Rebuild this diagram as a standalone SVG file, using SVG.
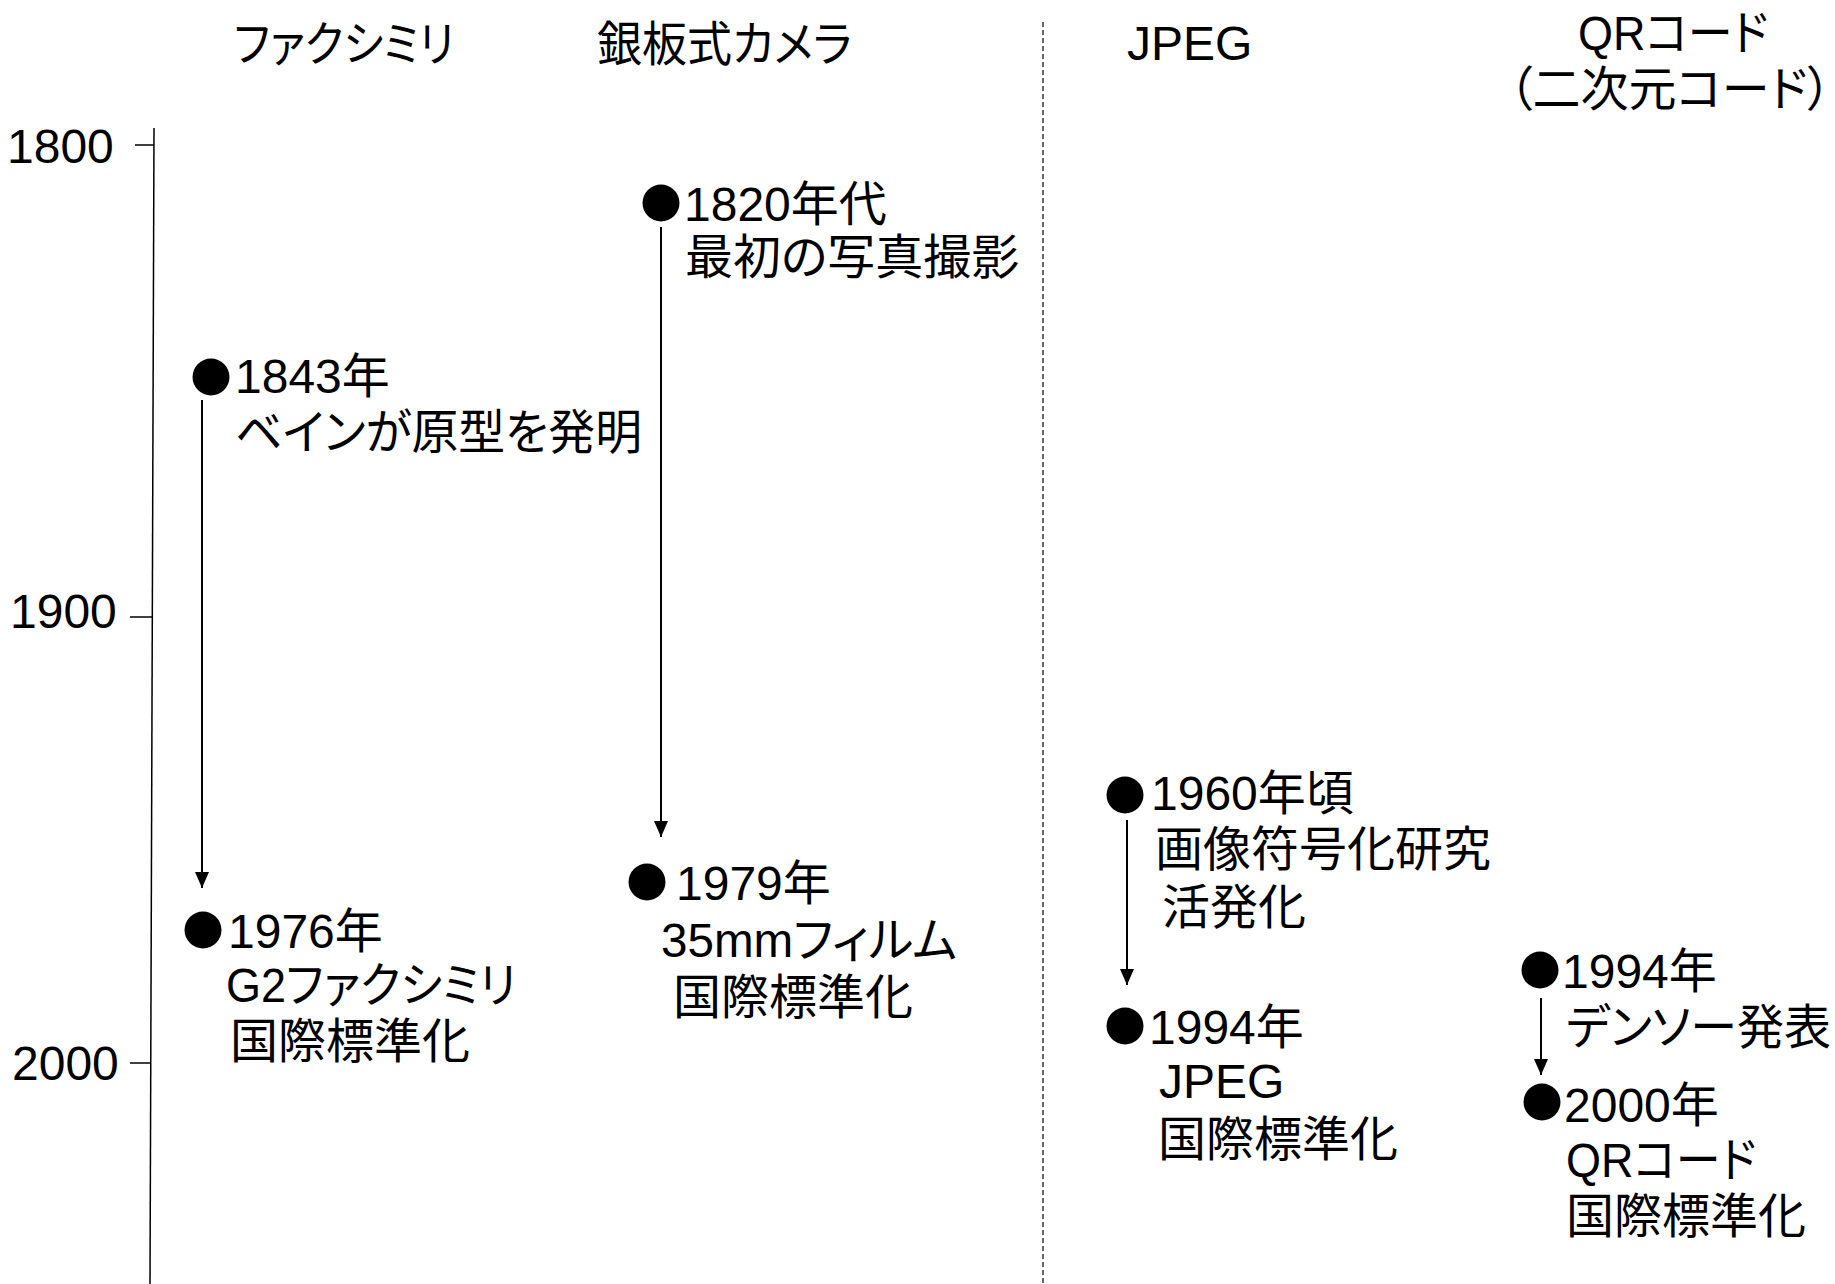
<svg xmlns="http://www.w3.org/2000/svg" width="1835" height="1284" viewBox="0 0 1835 1284">
<style>
text{font-family:"Liberation Sans","Noto Sans CJK JP",sans-serif;font-size:48px;fill:#000;font-feature-settings:"palt";}
.mid{text-anchor:middle;}
.dot{fill:#000;}
.arr{stroke:#000;stroke-width:2;fill:none;marker-end:url(#ah);}
.axis{stroke:#000;stroke-width:1.5;fill:none;}
.sep{stroke:#000;stroke-width:1.2;stroke-dasharray:5 3;fill:none;}
</style>
<defs>
<marker id="ah" viewBox="0 0 16 14" refX="16" refY="7" markerWidth="16" markerHeight="14" markerUnits="userSpaceOnUse" orient="auto">
<path d="M0,0 L16,7 L0,14 z" fill="#000"/>
</marker>
</defs>
<rect width="1835" height="1284" fill="#fff"/>
<g id="axis">
<line class="axis" x1="154" y1="128" x2="150" y2="1284"/>
<line class="axis" x1="135" y1="145" x2="154" y2="145"/>
<line class="axis" x1="130" y1="617" x2="152" y2="617"/>
<line class="axis" x1="130" y1="1063" x2="151" y2="1063"/>
<text x="7" y="163">1800</text>
<text x="10" y="628">1900</text>
<text x="12" y="1080">2000</text>
</g>
<g id="separator">
<line class="sep" x1="1043" y1="22" x2="1043" y2="1284"/>
</g>
<g id="headers">
<text id="h-fax" x="234" y="61" textLength="220" lengthAdjust="spacingAndGlyphs">ファクシミリ</text>
<text id="h-camera" x="597" y="61" textLength="255" lengthAdjust="spacingAndGlyphs">銀板式カメラ</text>
<text id="h-jpeg" x="1127" y="60">JPEG</text>
<g id="h-qr">
<text x="1578" y="50" textLength="190" lengthAdjust="spacingAndGlyphs">QRコード</text>
<text class="mid" x="1670" y="106">（二次元コード）</text>
</g>
</g>
<g id="connectors">
<line class="arr" x1="202" y1="400" x2="202" y2="888"/>
<line class="arr" x1="661" y1="227" x2="661" y2="837"/>
<line class="arr" x1="1127" y1="820" x2="1127" y2="985"/>
<line class="arr" x1="1541" y1="998" x2="1541" y2="1075"/>
</g>
<g id="ev-1843">
<circle class="dot" cx="211" cy="377" r="18.5"/>
<text x="235" y="393">1843年</text>
<text x="235" y="449" textLength="407" lengthAdjust="spacingAndGlyphs">ベインが原型を発明</text>
</g>
<g id="ev-1976">
<circle class="dot" cx="203" cy="930" r="18.5"/>
<text x="228" y="948">1976年</text>
<text x="226" y="1002" textLength="290" lengthAdjust="spacingAndGlyphs">G2ファクシミリ</text>
<text x="230" y="1058">国際標準化</text>
</g>
<g id="ev-1820">
<circle class="dot" cx="661" cy="203" r="18.5"/>
<text x="684" y="221">1820年代</text>
<text x="685" y="274">最初の写真撮影</text>
</g>
<g id="ev-1979">
<circle class="dot" cx="647" cy="882" r="18.5"/>
<text x="676" y="900">1979年</text>
<text x="661" y="957" textLength="296" lengthAdjust="spacingAndGlyphs">35mmフィルム</text>
<text x="673" y="1014">国際標準化</text>
</g>
<g id="ev-1960">
<circle class="dot" cx="1125" cy="795" r="18.5"/>
<text x="1151" y="810">1960年頃</text>
<text x="1155" y="866">画像符号化研究</text>
<text x="1162" y="924">活発化</text>
</g>
<g id="ev-1994-jpeg">
<circle class="dot" cx="1125" cy="1026" r="18.5"/>
<text x="1149" y="1044">1994年</text>
<text x="1159" y="1098">JPEG</text>
<text x="1158" y="1156">国際標準化</text>
</g>
<g id="ev-1994-qr">
<circle class="dot" cx="1540" cy="970" r="18.5"/>
<text x="1562" y="988">1994年</text>
<text x="1566" y="1044" textLength="265" lengthAdjust="spacingAndGlyphs">デンソー発表</text>
</g>
<g id="ev-2000-qr">
<circle class="dot" cx="1542" cy="1102" r="18.5"/>
<text x="1564" y="1122">2000年</text>
<text x="1566" y="1177" textLength="190" lengthAdjust="spacingAndGlyphs">QRコード</text>
<text x="1566" y="1233">国際標準化</text>
</g>
</svg>
